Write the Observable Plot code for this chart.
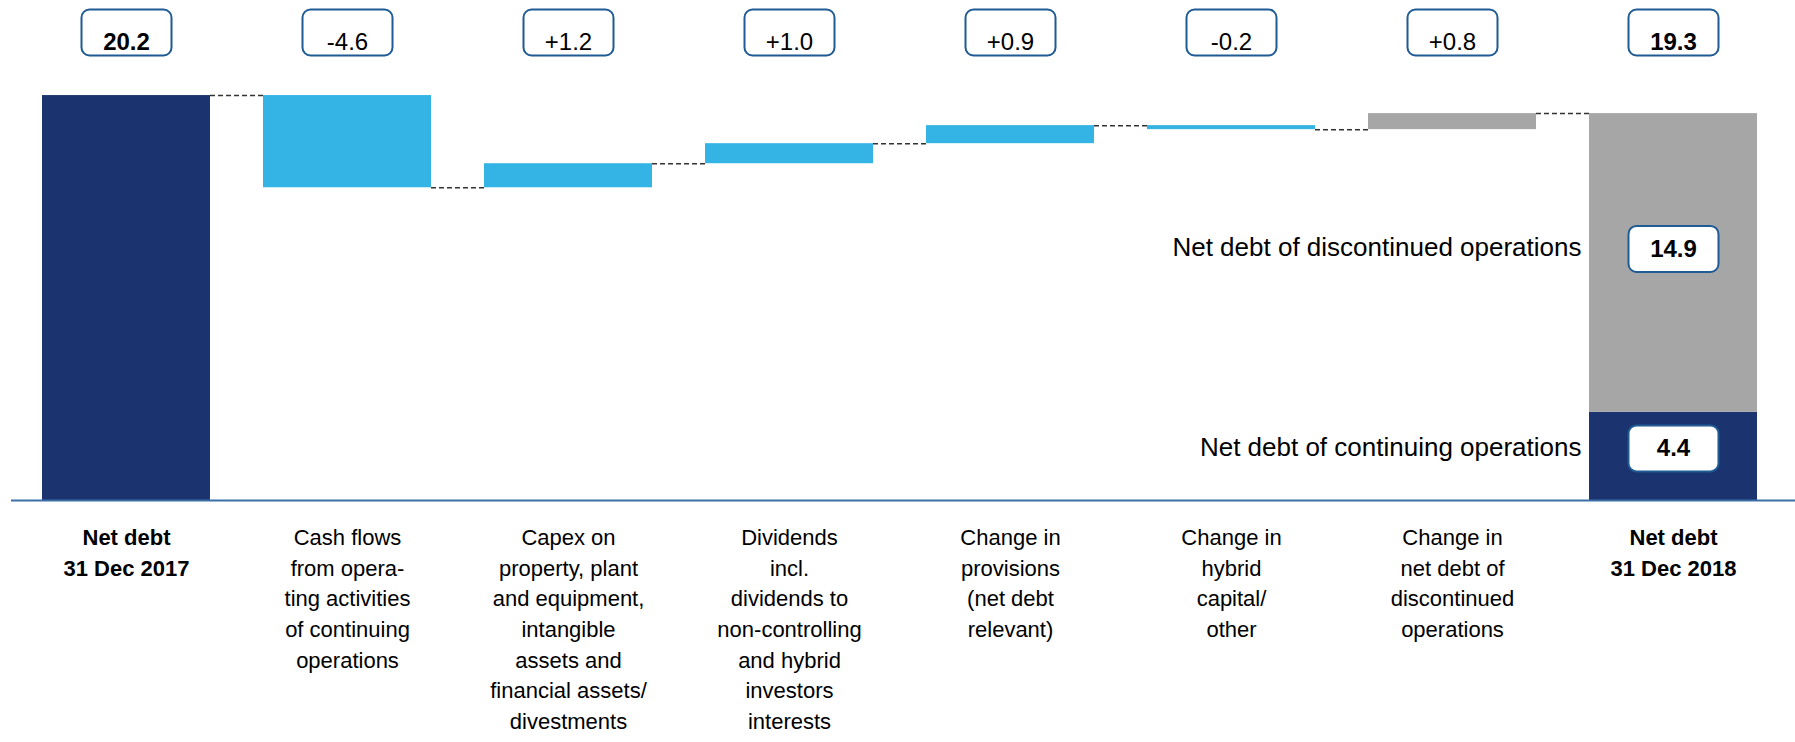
<!DOCTYPE html>
<html><head><meta charset="utf-8">
<script src="https://cdn.jsdelivr.net/npm/d3@7"></script>
<script src="https://cdn.jsdelivr.net/npm/@observablehq/plot@0.6"></script>
<style>body{margin:0;background:#fff;}</style>
</head><body><div id="chart"></div>
<script>
// ---- data ----
const categories = [
  "Net debt\n31 Dec 2017",
  "Cash flows\nfrom opera-\nting activities\nof continuing\noperations",
  "Capex on\nproperty, plant\nand equipment,\nintangible\nassets and\nfinancial assets/\ndivestments",
  "Dividends\nincl.\ndividends to\nnon-controlling\nand hybrid\ninvestors\ninterests",
  "Change in\nprovisions\n(net debt\nrelevant)",
  "Change in\nhybrid\ncapital/\nother",
  "Change in\nnet debt of\ndiscontinued\noperations",
  "Net debt\n31 Dec 2018"
];
const startValue = 20.2;
const changes = [-4.6, 1.2, 1.0, 0.9, -0.2, 0.8];
const changeKinds = ["change", "change", "change", "change", "change", "disc"];
const endContinuing = 4.4;
const endDiscontinued = 14.9;
const valueLabels = ["20.2", "-4.6", "+1.2", "+1.0", "+0.9", "-0.2", "+0.8", "19.3"];
const segmentNames = ["Net debt of continuing operations", "Net debt of discontinued operations"];
const segmentValues = ["4.4", "14.9"];

// ---- derived tables ----
const bars = [{cat: categories[0], y1: 0, y2: startValue, kind: "total"}];
const steps = [];
let cum = startValue;
changes.forEach((c, i) => {
  const prev = cum;
  cum = +(cum + c).toFixed(1);
  bars.push({cat: categories[i + 1], y1: prev, y2: cum, kind: changeKinds[i]});
  steps.push({from: categories[i], to: categories[i + 1], y: prev});
});
steps.push({from: categories[6], to: categories[7], y: cum});
const last = categories[7];
bars.push({cat: last, y1: 0, y2: endContinuing, kind: "total"});
bars.push({cat: last, y1: endContinuing, y2: endContinuing + endDiscontinued, kind: "disc"});
const segs = [
  {cat: last, y: endContinuing / 2, name: segmentNames[0], label: segmentValues[0]},
  {cat: last, y: endContinuing + endDiscontinued / 2, name: segmentNames[1], label: segmentValues[1]}
];
const tops = categories.map((c, i) => ({cat: c, label: valueLabels[i], bold: i === 0 || i === categories.length - 1}));

const roundRect = {draw(ctx) {
  const w = 45, h = 23, r = 8;
  ctx.moveTo(-w + r, -h); ctx.lineTo(w - r, -h); ctx.arcTo(w, -h, w, -h + r, r);
  ctx.lineTo(w, h - r); ctx.arcTo(w, h, w - r, h, r);
  ctx.lineTo(-w + r, h); ctx.arcTo(-w, h, -w, h - r, r);
  ctx.lineTo(-w, -h + r); ctx.arcTo(-w, -h, -w + r, -h, r); ctx.closePath();
}};
const boxStyle = {symbol: roundRect, r: 10, fill: "#fff", stroke: "#1f5b94", strokeWidth: 2};
const font = 22;
const segFont = 26;

const chart = Plot.plot({
  width: 1795, height: 742,
  marginTop: 70, marginBottom: 242, marginLeft: 13, marginRight: 10,
  x: {domain: categories, paddingInner: 0.24, paddingOuter: 0.12, axis: null},
  y: {domain: [0, 21.45], axis: null},
  color: {domain: ["total", "change", "disc"], range: ["#1b3470", "#33b4e5", "#a6a6a6"]},
  style: {fontFamily: "'Liberation Sans', Arial, sans-serif", color: "#000", background: "#fff", overflow: "visible"},
  marks: [
    Plot.ruleY(steps, {y: "y", x1: "to", x2: "from", stroke: "#333", strokeWidth: 1.5, strokeDasharray: "5,3"}),
    Plot.barY(bars, {x: "cat", y1: "y1", y2: "y2", fill: "kind"}),
    Plot.ruleY([0], {stroke: "#3a6fa8", strokeWidth: 2, insetLeft: -2, insetRight: -10}),
    // top value boxes
    Plot.dot(tops, {x: "cat", frameAnchor: "top", dy: -38, ...boxStyle}),
    Plot.text(tops.filter(d => d.bold), {x: "cat", text: "label", frameAnchor: "top", dy: -38, fontSize: 24, fontWeight: "bold", fill: "#000"}),
    Plot.text(tops.filter(d => !d.bold), {x: "cat", text: "label", frameAnchor: "top", dy: -38, fontSize: 24, fill: "#000"}),
    // segment boxes and names
    Plot.dot(segs.slice(0, 1), {x: "cat", y: "y", dy: -8, ...boxStyle}),
    Plot.dot(segs.slice(1), {x: "cat", y: "y", dy: -14, ...boxStyle}),
    Plot.text(segs.slice(0, 1), {x: "cat", y: "y", text: "label", dy: -8, fontSize: 24, fontWeight: "bold", fill: "#000"}),
    Plot.text(segs.slice(1), {x: "cat", y: "y", text: "label", dy: -14, fontSize: 24, fontWeight: "bold", fill: "#000"}),
    Plot.text(segs.slice(0, 1), {x: "cat", y: "y", text: "name", dy: -9, dx: -92, textAnchor: "end", fontSize: segFont, fill: "#000"}),
    Plot.text(segs.slice(1), {x: "cat", y: "y", text: "name", dy: -15, dx: -92, textAnchor: "end", fontSize: segFont, fill: "#000"}),
    // category labels
    Plot.text(categories.filter((c, i) => i === 0 || i === categories.length - 1), {x: d => d, text: d => d, frameAnchor: "bottom", lineAnchor: "top", dy: 23, fontSize: font, lineHeight: 1.39, fontWeight: "bold", fill: "#000"}),
    Plot.text(categories.filter((c, i) => i > 0 && i < categories.length - 1), {x: d => d, text: d => d, frameAnchor: "bottom", lineAnchor: "top", dy: 23, fontSize: font, lineHeight: 1.39, fill: "#000"})
  ]
});
document.getElementById("chart").appendChild(chart);
</script>
</body></html>
